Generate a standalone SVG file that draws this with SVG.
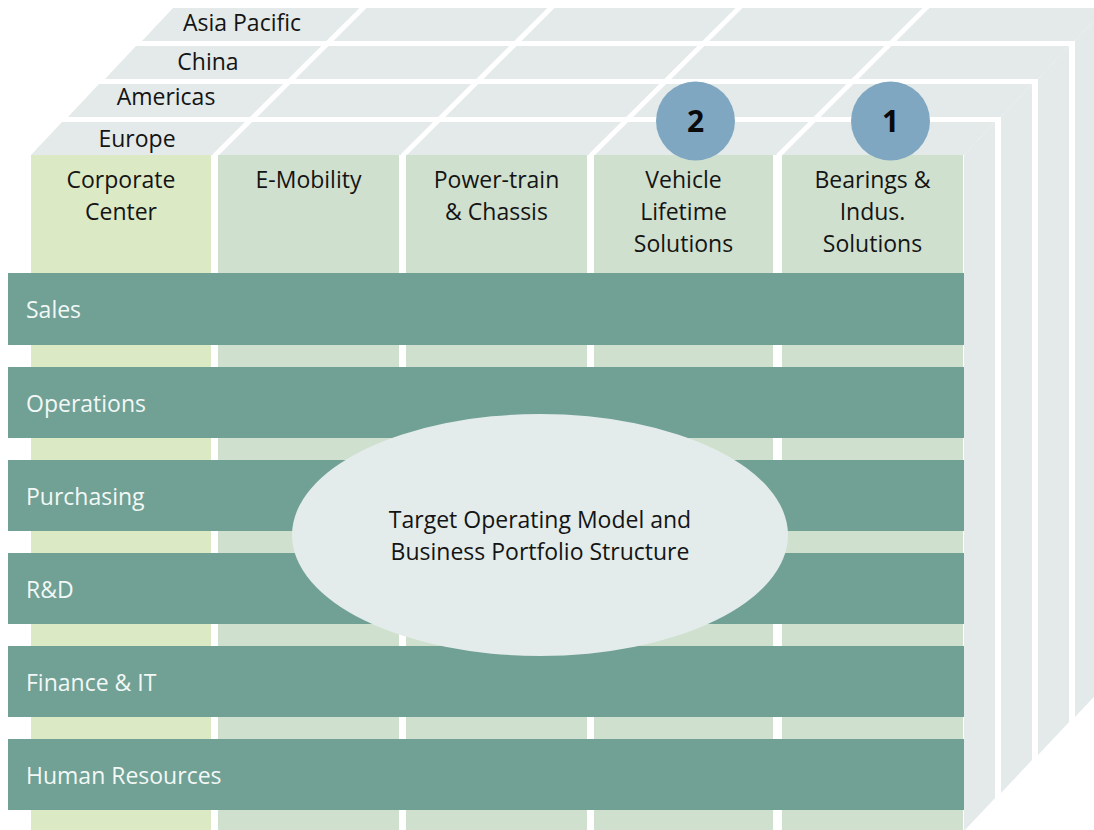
<svg xmlns="http://www.w3.org/2000/svg" width="1094" height="830" viewBox="0 0 1094 830">
  <style>
    text { font-family: "Open Sans", "Noto Sans", "Liberation Sans", sans-serif; font-size: 23px; }
    .face { fill: #e3eae9; }
    .divider { stroke: #ffffff; stroke-width: 5; fill: none; }
    .col { fill: #d0e0cf; }
    .col-corp { fill: #dce9c5; }
    .row { fill: #71a095; }
    .hdr { fill: #141414; text-anchor: middle; }
    .region { fill: #141414; text-anchor: middle; }
    .rowlbl { fill: #f1f8f5; }
    .badge { fill: #7fa7c1; }
    .badge-num { fill: #0a0a0a; font-weight: bold; font-size: 30px; text-anchor: middle; }
  </style>

  <rect width="1094" height="830" fill="#ffffff"/>

  <!-- Region layers of the cube, back to front: top strip + right side face -->
  <g id="layer-asia-pacific">
    <polygon class="face" points="142,41 1075,41 1106,8 173,8"/>
    <polygon class="face" points="1075,41 1106,8 1106,684 1075,717"/>
    <text class="region" x="242" y="31">Asia Pacific</text>
  </g>
  <g id="layer-china">
    <polygon class="face" points="105,79 1038,79 1069,46 136,46"/>
    <polygon class="face" points="1038,79 1069,46 1069,722 1038,755"/>
    <text class="region" x="208" y="70">China</text>
  </g>
  <g id="layer-americas">
    <polygon class="face" points="68,117 1001,117 1032,84 99,84"/>
    <polygon class="face" points="1001,117 1032,84 1032,760 1001,793"/>
    <text class="region" x="166" y="105">Americas</text>
  </g>
  <g id="layer-europe">
    <polygon class="face" points="31,155 964,155 995,122 62,122"/>
    <polygon class="face" points="964,155 995,122 995,798 964,831"/>
    <text class="region" x="137" y="147">Europe</text>
  </g>

  <!-- Column separators running back across the top strips -->
  <g id="strip-dividers">
    <line class="divider" x1="214.5" y1="156" x2="367" y2="4"/>
    <line class="divider" x1="402.5" y1="156" x2="555" y2="4"/>
    <line class="divider" x1="590.5" y1="156" x2="743" y2="4"/>
    <line class="divider" x1="778" y1="156" x2="930" y2="4"/>
  </g>

  <!-- Business columns on the front face -->
  <g id="col-corporate-center">
    <rect class="col-corp" x="31" y="155" width="180" height="676"/>
    <text class="hdr" x="121" y="188">Corporate</text>
    <text class="hdr" x="121" y="220">Center</text>
  </g>
  <g id="col-e-mobility">
    <rect class="col" x="218" y="155" width="181" height="676"/>
    <text class="hdr" x="308.5" y="188">E-Mobility</text>
  </g>
  <g id="col-powertrain-chassis">
    <rect class="col" x="406" y="155" width="181" height="676"/>
    <text class="hdr" x="496.5" y="188">Power-train</text>
    <text class="hdr" x="496.5" y="220">&amp; Chassis</text>
  </g>
  <g id="col-vehicle-lifetime">
    <rect class="col" x="594" y="155" width="179" height="676"/>
    <text class="hdr" x="683.5" y="188">Vehicle</text>
    <text class="hdr" x="683.5" y="220">Lifetime</text>
    <text class="hdr" x="683.5" y="252">Solutions</text>
  </g>
  <g id="col-bearings-industrial">
    <rect class="col" x="782" y="155" width="181" height="676"/>
    <text class="hdr" x="872.5" y="188">Bearings &amp;</text>
    <text class="hdr" x="872.5" y="220">Indus.</text>
    <text class="hdr" x="872.5" y="252">Solutions</text>
  </g>

  <!-- Functional rows crossing all columns -->
  <g id="row-sales">
    <rect class="row" x="8" y="273" width="956" height="72"/>
    <text class="rowlbl" x="26" y="318">Sales</text>
  </g>
  <g id="row-operations">
    <rect class="row" x="8" y="367" width="956" height="71"/>
    <text class="rowlbl" x="26" y="412">Operations</text>
  </g>
  <g id="row-purchasing">
    <rect class="row" x="8" y="460" width="956" height="71"/>
    <text class="rowlbl" x="26" y="505">Purchasing</text>
  </g>
  <g id="row-rnd">
    <rect class="row" x="8" y="553" width="956" height="71"/>
    <text class="rowlbl" x="26" y="598">R&amp;D</text>
  </g>
  <g id="row-finance-it">
    <rect class="row" x="8" y="646" width="956" height="71"/>
    <text class="rowlbl" x="26" y="691">Finance &amp; IT</text>
  </g>
  <g id="row-human-resources">
    <rect class="row" x="8" y="739" width="956" height="71"/>
    <text class="rowlbl" x="26" y="784">Human Resources</text>
  </g>

  <!-- Central model label -->
  <g id="target-model">
    <ellipse cx="540" cy="535" rx="248" ry="121" fill="#e3eceb"/>
    <text class="hdr" x="540" y="528">Target Operating Model and</text>
    <text class="hdr" x="540" y="560">Business Portfolio Structure</text>
  </g>

  <!-- Numbered markers -->
  <g id="badge-2">
    <circle class="badge" cx="695.5" cy="121" r="39.5"/>
    <text class="badge-num" x="695.5" y="132">2</text>
  </g>
  <g id="badge-1">
    <circle class="badge" cx="890.5" cy="121" r="39.5"/>
    <text class="badge-num" x="890.5" y="132">1</text>
  </g>
</svg>
